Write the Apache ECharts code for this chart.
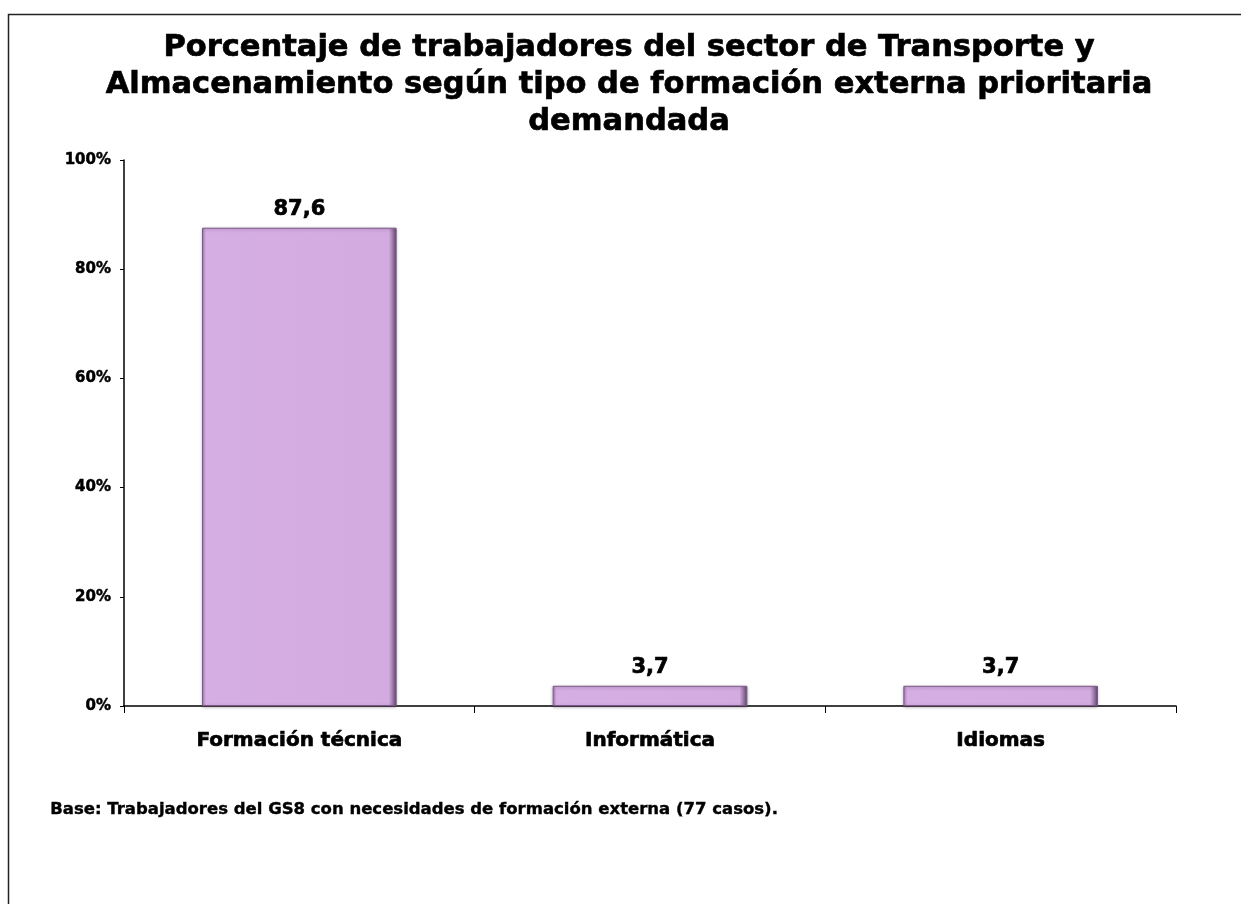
<!DOCTYPE html>
<html>
<head>
<meta charset="utf-8">
<script src="https://cdn.jsdelivr.net/npm/echarts@6/dist/echarts.min.js"></script>
<style>
  html, body { margin: 0; padding: 0; background: #fff; }
  #chart { width: 1241px; height: 904px; }
</style>
</head>
<body>
<div id="chart"></div>
<script>
// datos del gráfico
const categorias = ["Formación técnica", "Informática", "Idiomas"];
const valores = [87.6, 3.7, 3.7];
const titulo = "Porcentaje de trabajadores del sector de Transporte y\nAlmacenamiento según tipo de formación externa prioritaria\ndemandada";
const nota = "Base: Trabajadores del GS8 con necesidades de formación externa (77 casos).";

const fuente = "DejaVu Sans";
// trazo fino para dar más peso al texto
const grueso = { textBorderColor: "#000", textBorderWidth: 0.7 };

// relleno con bordes biselados (aprox.)
const relleno = new echarts.graphic.LinearGradient(0, 0, 1, 0, [
  { offset: 0, color: "#a57fb4" },
  { offset: 0.02, color: "#d5aee3" },
  { offset: 0.96, color: "#d3abe1" },
  { offset: 0.985, color: "#8e6c9a" },
  { offset: 1, color: "#5e4468" }
]);

const chart = echarts.init(document.getElementById("chart"));
chart.setOption({
  animation: false,
  title: {
    text: titulo,
    left: 624,
    textAlign: "center",
    top: 25,
    textStyle: Object.assign({ fontFamily: fuente, fontSize: 30.5, fontWeight: "bold", color: "#000", lineHeight: 37 }, grueso)
  },
  graphic: [
    {
      type: "rect",
      shape: { x: 8.5, y: 14.5, width: 1300, height: 1000 },
      style: { fill: "none", stroke: "#222", lineWidth: 1.5 },
      silent: true
    },
    {
      type: "text",
      left: 50,
      top: 801,
      style: { text: nota, fontFamily: fuente, fontSize: 16.5, fontWeight: "bold", fill: "#000", stroke: "#000", lineWidth: 0.4 }
    }
  ],
  grid: { left: 124, right: 65, top: 160, bottom: 198 },
  xAxis: {
    type: "category",
    data: categorias,
    axisLine: { lineStyle: { color: "#000", width: 1.5 } },
    axisTick: { show: true, length: 7, lineStyle: { color: "#000" } },
    axisLabel: Object.assign({ margin: 25, fontFamily: fuente, fontSize: 20, fontWeight: "bold", color: "#000" }, grueso)
  },
  yAxis: {
    type: "value",
    min: 0,
    max: 100,
    interval: 20,
    splitLine: { show: false },
    axisLine: { show: true, lineStyle: { color: "#000", width: 1.5 } },
    axisTick: { show: true, length: 4, lineStyle: { color: "#000" } },
    axisLabel: { formatter: "{value}%", margin: 13, fontFamily: fuente, fontSize: 15, fontWeight: "bold", color: "#000", textBorderColor: "#000", textBorderWidth: 0.5 }
  },
  series: [{
    type: "bar",
    data: valores,
    barWidth: "55.5%",
    itemStyle: {
      color: relleno,
      borderColor: "#7a5a86",
      borderWidth: 1,
      shadowColor: "rgba(60,30,70,0.35)",
      shadowBlur: 3,
      shadowOffsetY: 1
    },
    label: Object.assign({
      show: true,
      position: "top",
      distance: 8,
      formatter: p => String(p.value).replace(".", ","),
      fontFamily: fuente,
      fontSize: 21,
      fontWeight: "bold",
      color: "#000"
    }, grueso)
  }]
});
</script>
</body>
</html>
